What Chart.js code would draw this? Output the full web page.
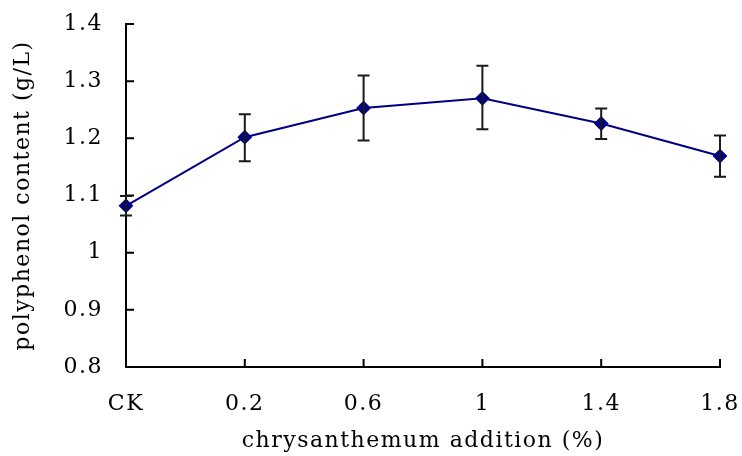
<!DOCTYPE html>
<html>
<head>
<meta charset="utf-8">
<script src="https://cdn.jsdelivr.net/npm/chart.js@4/dist/chart.umd.min.js"></script>
<style>
  html, body { margin: 0; padding: 0; background: #fff; }
  #wrap { width: 742px; height: 456px; }
</style>
</head>
<body>
<div id="wrap"><canvas id="chart" width="742" height="456"></canvas></div>
<script>
const categories = ["CK", "0.2", "0.6", "1", "1.4", "1.8"];
const polyphenol = [1.082, 1.202, 1.253, 1.270, 1.226, 1.169];
const errHigh = [1.099, 1.242, 1.310, 1.327, 1.252, 1.205];
const errLow = [1.065, 1.160, 1.196, 1.216, 1.199, 1.133];
const yTicks = [0.8, 0.9, 1, 1.1, 1.2, 1.3, 1.4];
const yTickLabels = ["0.8", "0.9", "1", "1.1", "1.2", "1.3", "1.4"];

const FONT = "'DejaVu Serif', serif";

// a bit of letter spacing, closer to the original font
const spacing = {
  id: "spacing",
  beforeUpdate(chart) { chart.ctx.letterSpacing = "1.5px"; },
  beforeDraw(chart) { chart.ctx.letterSpacing = "1.5px"; }
};

// error bars, drawn through the y scale
const errorBars = {
  id: "errorBars",
  afterDatasetsDraw(chart) {
    const ctx = chart.ctx;
    const x = chart.scales.x;
    const y = chart.scales.y;
    ctx.save();
    ctx.strokeStyle = "#1a1a1a";
    ctx.lineWidth = 2;
    polyphenol.forEach((v, i) => {
      const px = x.getPixelForValue(i);
      const top = y.getPixelForValue(errHigh[i]);
      const bot = y.getPixelForValue(errLow[i]);
      ctx.beginPath();
      ctx.moveTo(px, top); ctx.lineTo(px, bot);
      ctx.moveTo(px - 6, top); ctx.lineTo(px + 6, top);
      ctx.moveTo(px - 6, bot); ctx.lineTo(px + 6, bot);
      ctx.stroke();
    });
    ctx.restore();
  }
};

// inward tick marks
const innerTicks = {
  id: "innerTicks",
  beforeDatasetsDraw(chart) {
    const ctx = chart.ctx;
    const x = chart.scales.x;
    const y = chart.scales.y;
    const area = chart.chartArea;
    ctx.save();
    ctx.strokeStyle = "#000";
    ctx.lineWidth = 2;
    ctx.beginPath();
    y.ticks.forEach((t, i) => {
      const py = y.getPixelForTick(i);
      ctx.moveTo(area.left, py); ctx.lineTo(area.left + 8, py);
    });
    x.ticks.forEach((t, i) => {
      const px = x.getPixelForTick(i);
      ctx.moveTo(px, area.bottom); ctx.lineTo(px, area.bottom - 8);
    });
    ctx.stroke();
    ctx.restore();
  }
};

new Chart(document.getElementById("chart"), {
  type: "line",
  data: {
    labels: categories,
    datasets: [{
      data: polyphenol,
      borderColor: "#000080",
      backgroundColor: "#000080",
      borderWidth: 2,
      pointStyle: "rectRot",
      pointRadius: 6,
      pointHoverRadius: 6,
      tension: 0
    }]
  },
  options: {
    responsive: false,
    animation: false,
    layout: { padding: { top: 24, right: 22, left: 0, bottom: 0 } },
    plugins: { legend: { display: false }, tooltip: { enabled: false } },
    scales: {
      x: {
        offset: false,
        afterFit(scale) { scale.height = 89; scale.paddingLeft = 0; scale.paddingRight = 0; },
        grid: { display: false },
        border: { display: true, color: "#000", width: 2 },
        ticks: { color: "#000", font: { family: FONT, size: 22 }, padding: 16, maxRotation: 0 },
        title: { display: true, text: "chrysanthemum addition (%)", color: "#000", font: { family: FONT, size: 22 }, padding: { top: 0, bottom: 2 } }
      },
      y: {
        min: 0.8,
        max: 1.4,
        afterFit(scale) { scale.width = 126; scale.paddingTop = 0; scale.paddingBottom = 0; },
        afterBuildTicks(scale) { scale.ticks = yTicks.map(v => ({ value: v })); },
        grid: { display: false },
        border: { display: true, color: "#000", width: 2 },
        ticks: {
          color: "#000",
          font: { family: FONT, size: 22 },
          padding: 15,
          callback: (v) => yTickLabels[yTicks.findIndex(t => Math.abs(t - v) < 1e-6)]
        },
        title: { display: true, text: "polyphenol content (g/L)", color: "#000", font: { family: FONT, size: 22 }, padding: { top: 10, bottom: 0 } }
      }
    }
  },
  plugins: [spacing, innerTicks, errorBars]
});
</script>
</body>
</html>
